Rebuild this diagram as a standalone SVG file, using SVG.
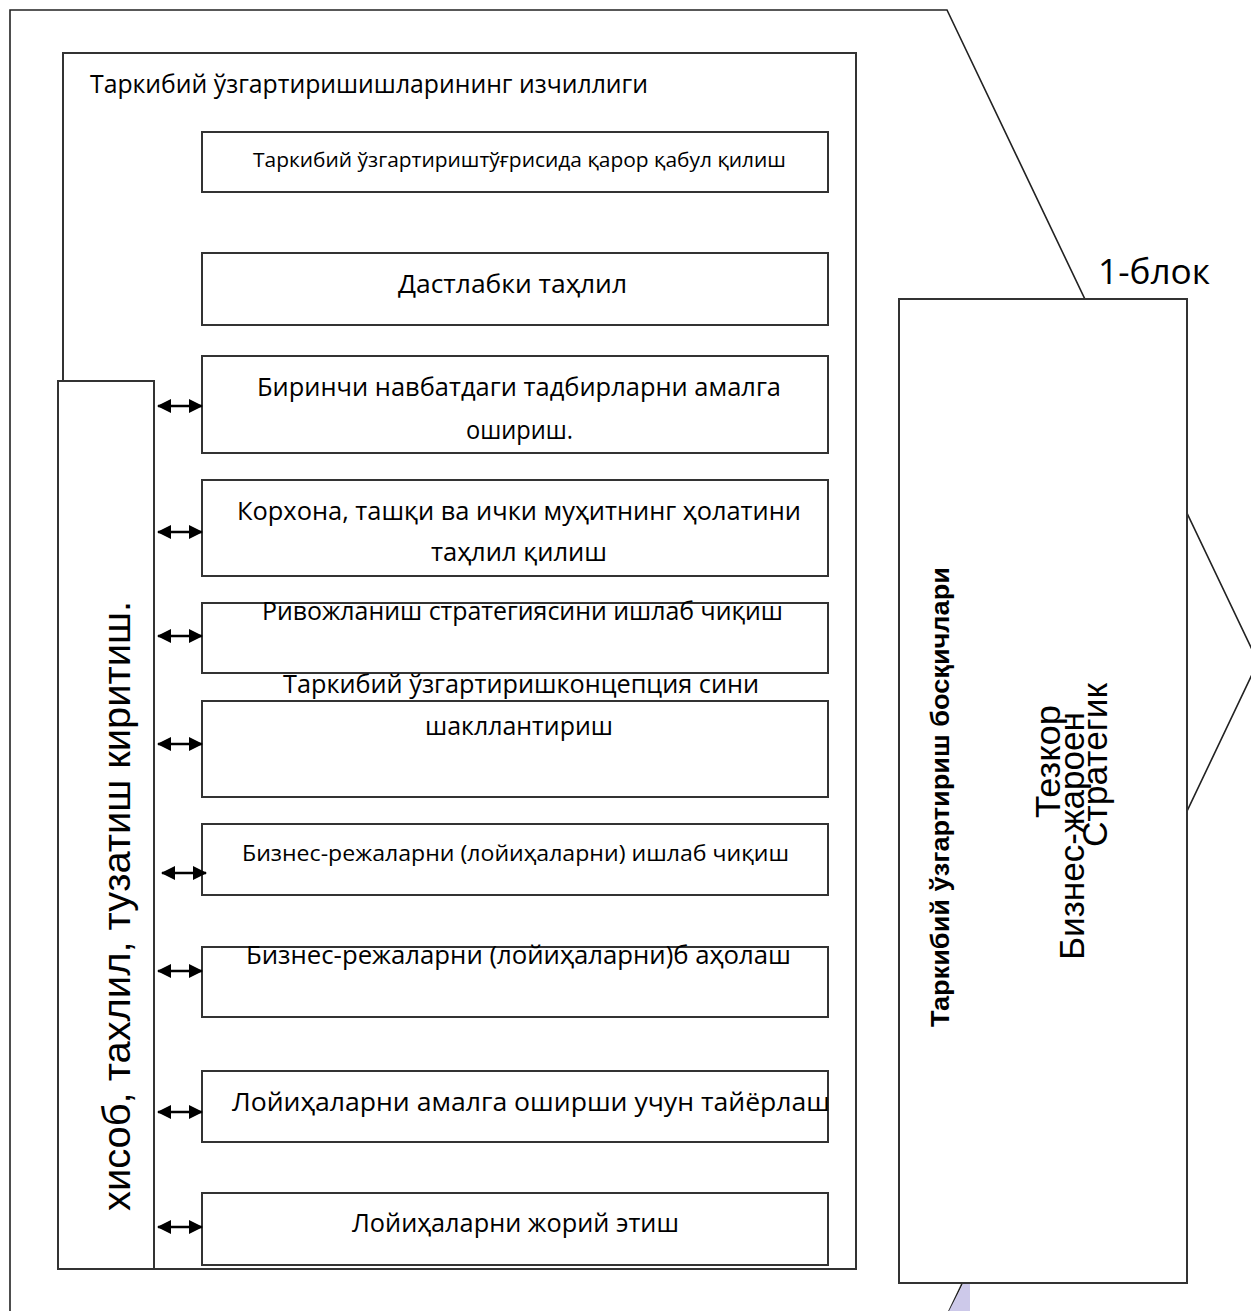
<svg xmlns="http://www.w3.org/2000/svg" width="1251" height="1311" viewBox="0 0 1251 1311">
<style>
.box{fill:#fff;stroke:#333;stroke-width:2}
.outline{fill:#fff;stroke:#222;stroke-width:1.6}
.t{font-family:"Open Sans","Noto Sans",sans-serif;fill:#000;font-size:26px}
.s{font-size:20px}
.m{font-size:21px}
.a{font-family:"Liberation Sans",Arial,sans-serif;fill:#000}
.b{font-weight:bold}
.conn{stroke:#000;stroke-width:2.4;fill:none;marker-start:url(#ah);marker-end:url(#ah)}
</style>
<defs>
<marker id="ah" viewBox="0 0 14 14" refX="13" refY="7" markerWidth="14" markerHeight="14" markerUnits="userSpaceOnUse" orient="auto-start-reverse">
<path d="M0,0 L14,7 L0,14 z" fill="#000"/>
</marker>
</defs>

<g id="outer-block">
<polygon class="outline" points="10,1330 10,10 947,10 1258,662 940,1330"/>
<polygon points="963,1284 970,1284 970,1311 949,1311" fill="#cdc9ea"/>
</g>

<g id="container">
<rect class="box" x="63" y="53" width="793" height="1216"/>
<text class="t" style="font-size:25px" x="90" y="93" textLength="558" lengthAdjust="spacingAndGlyphs">Таркибий ўзгартиришишларининг изчиллиги</text>
</g>

<g id="left-panel">
<rect class="box" x="58" y="381" width="96" height="888"/>
<text class="a" font-size="38" transform="translate(130,1211) rotate(-90)" textLength="610" lengthAdjust="spacingAndGlyphs">хисоб, тахлил, тузатиш киритиш.</text>
</g>

<g id="step1">
<rect class="box" x="202" y="132" width="626" height="60"/>
<text class="t s" x="253" y="167" textLength="533" lengthAdjust="spacingAndGlyphs">Таркибий ўзгартириштўғрисида қарор қабул қилиш</text>
</g>
<g id="step2">
<rect class="box" x="202" y="253" width="626" height="72"/>
<text class="t" x="398" y="293" textLength="229" lengthAdjust="spacingAndGlyphs">Дастлабки таҳлил</text>
</g>
<g id="step3">
<rect class="box" x="202" y="356" width="626" height="97"/>
<text class="t" x="257" y="396" textLength="524" lengthAdjust="spacingAndGlyphs">Биринчи навбатдаги тадбирларни амалга</text>
<text class="t" x="466" y="439" textLength="107" lengthAdjust="spacingAndGlyphs">ошириш.</text>
</g>
<g id="step4">
<rect class="box" x="202" y="480" width="626" height="96"/>
<text class="t" x="237" y="520" textLength="564" lengthAdjust="spacingAndGlyphs">Корхона, ташқи ва ички муҳитнинг ҳолатини</text>
<text class="t" x="431" y="561" textLength="176" lengthAdjust="spacingAndGlyphs">таҳлил қилиш</text>
</g>
<g id="step5">
<rect class="box" x="202" y="603" width="626" height="70"/>
<text class="t" x="262" y="620" textLength="521" lengthAdjust="spacingAndGlyphs">Ривожланиш стратегиясини ишлаб чиқиш</text>
</g>
<g id="step6">
<rect class="box" x="202" y="701" width="626" height="96"/>
<text class="t" x="283" y="693" textLength="476" lengthAdjust="spacingAndGlyphs">Таркибий ўзгартиришконцепция сини</text>
<text class="t" x="425" y="735" textLength="188" lengthAdjust="spacingAndGlyphs">шакллантириш</text>
</g>
<g id="step7">
<rect class="box" x="202" y="824" width="626" height="71"/>
<text class="t m" x="242" y="861" textLength="547" lengthAdjust="spacingAndGlyphs">Бизнес-режаларни (лойиҳаларни) ишлаб чиқиш</text>
</g>
<g id="step8">
<rect class="box" x="202" y="947" width="626" height="70"/>
<text class="t" x="246" y="964" textLength="545" lengthAdjust="spacingAndGlyphs">Бизнес-режаларни (лойиҳаларни)б аҳолаш</text>
</g>
<g id="step9">
<rect class="box" x="202" y="1071" width="626" height="71"/>
<text class="t" x="232" y="1111" textLength="598" lengthAdjust="spacingAndGlyphs">Лойиҳаларни амалга оширши учун тайёрлаш</text>
</g>
<g id="step10">
<rect class="box" x="202" y="1193" width="626" height="72"/>
<text class="t" x="352" y="1232" textLength="327" lengthAdjust="spacingAndGlyphs">Лойиҳаларни жорий этиш</text>
</g>

<g id="block-label">
<text class="t" style="font-size:34px" x="1098" y="284" textLength="112" lengthAdjust="spacingAndGlyphs">1-блок</text>
</g>

<g id="stages">
<rect class="box" x="899" y="299" width="288" height="984"/>
<text class="a b" font-size="26" transform="translate(949,1027) rotate(-90)" textLength="460" lengthAdjust="spacingAndGlyphs">Таркибий ўзгартириш босқичлари</text>
<text class="a" font-size="35" transform="translate(1060,818) rotate(-90)" textLength="113" lengthAdjust="spacingAndGlyphs">Тезкор</text>
<text class="a" font-size="35" transform="translate(1084,960) rotate(-90)" textLength="248" lengthAdjust="spacingAndGlyphs">Бизнес-жароен</text>
<text class="a" font-size="35" transform="translate(1107,847) rotate(-90)" textLength="164" lengthAdjust="spacingAndGlyphs">Стратегик</text>
</g>

<g id="connectors">
<path class="conn" d="M158,406 H202"/>
<path class="conn" d="M158,532 H202"/>
<path class="conn" d="M158,636 H202"/>
<path class="conn" d="M158,744 H202"/>
<path class="conn" d="M162,873 H206"/>
<path class="conn" d="M158,971 H202"/>
<path class="conn" d="M158,1112 H202"/>
<path class="conn" d="M158,1227 H202"/>
</g>
</svg>
